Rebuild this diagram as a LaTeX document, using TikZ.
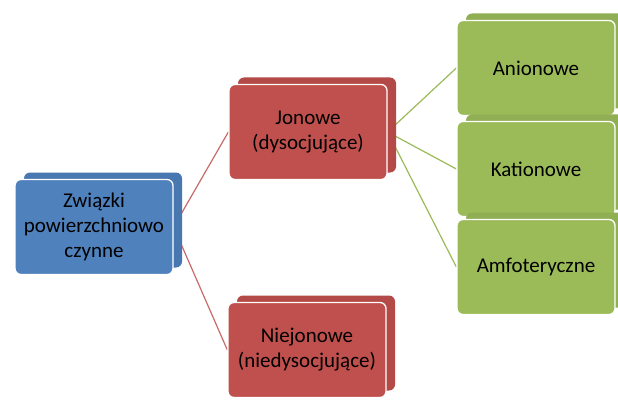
\documentclass[tikz,border=0pt]{standalone}
\usepackage{fontspec}
\setmainfont{Carlito}
\usetikzlibrary{backgrounds}
\definecolor{blu}{RGB}{79,129,189}
\definecolor{rd}{RGB}{192,80,77}
\definecolor{grn}{RGB}{155,187,89}

\begin{document}
\begin{tikzpicture}[x=1pt,y=1pt,font=\fontsize{21}{25}\selectfont,
 box/.style={fill=#1,draw=white,line width=1.3pt,rounded corners=6pt,align=center,inner sep=2pt,
   minimum width=158pt,minimum height=95pt,
   preaction={fill=#1!93!black,draw=none,transform canvas={shift={(9pt,7pt)}}}},
 lnk/.style={line width=1.2pt}]
 \useasboundingbox (0,0) rectangle (618,405);
 \clip (0,0) rectangle (618,405);
 \node[box=blu](zw) at (94,178){Związki\\powierzchniowo\\czynne};
 \node[box=rd](jon) at (308,273){Jonowe\\(dysocjujące)};
 \node[box=rd](niej) at (307,55){Niejonowe\\(niedysocjujące)};
 \node[box=grn](an) at (536,337){Anionowe};
 \node[box=grn](kat) at (536,236){Kationowe};
 \node[box=grn](amf) at (536,138){Amfoteryczne};
 \begin{scope}[on background layer]
  \draw[lnk,rd!85!white](zw.east)--(jon.west);
  \draw[lnk,rd!85!white](zw.east)--(niej.west);
  \draw[lnk,grn](jon.east)--(an.west);
  \draw[lnk,grn](jon.east)--(kat.west);
  \draw[lnk,grn](jon.east)--(amf.west);
 \end{scope}
\end{tikzpicture}
\end{document}
